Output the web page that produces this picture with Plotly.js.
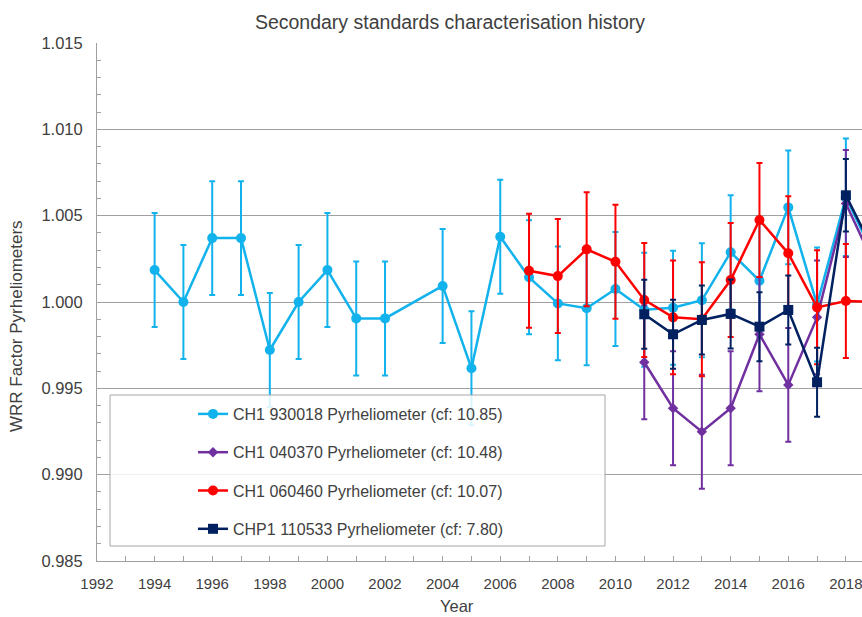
<!DOCTYPE html>
<html>
<head>
<meta charset="utf-8">
<script src="https://cdn.plot.ly/plotly-3.0.1.min.js"></script>
<style>html,body{margin:0;padding:0;background:#fff;}#chart{width:862px;height:617px;}</style>
</head>
<body>
<div id="chart"></div>
<script>
// ---- data ----
const yearsCH1_930018 = [1994,1995,1996,1997,1998,1999,2000,2001,2002,2004,2005,2006,2007,2008,2009,2010,2011,2012,2013,2014,2015,2016,2017,2018,2019];
const valsCH1_930018  = [1.00185,1.0000,1.0037,1.0037,0.99722,1.0000,1.00185,0.99905,0.99905,1.00093,0.99616,1.00378,1.00143,0.99992,0.99964,1.00075,0.99955,0.99967,1.0001,1.00288,1.00123,1.00548,0.99985,1.00607,1.0026];
const errCH1_930018   = [0.0033,0.0033,0.0033,0.0033,0.0033,0.0033,0.0033,0.0033,0.0033,0.0033,0.0033,0.0033,0.0033,0.0033,0.0033,0.0033,0.0033,0.0033,0.0033,0.0033,0.0033,0.0033,0.0033,0.0034,0.0033];

const yearsCH1_040370 = [2011,2012,2013,2014,2015,2016,2017,2018,2019];
const valsCH1_040370  = [0.99651,0.99385,0.99249,0.99385,0.99813,0.9952,0.99911,1.00571,1.0021];
const errCH1_040370   = [0.0033,0.0033,0.0033,0.0033,0.0033,0.0033,0.0033,0.0031,0.0033];

const yearsCH1_060460 = [2007,2008,2009,2010,2011,2012,2013,2014,2015,2016,2017,2018,2019];
const valsCH1_060460  = [1.00181,1.0015,1.00305,1.00233,1.00012,0.99911,0.999,1.00127,1.00475,1.00282,0.99969,1.00006,1.0000];
const errCH1_060460   = [0.0033,0.0033,0.0033,0.0033,0.0033,0.0033,0.0033,0.0033,0.0033,0.0033,0.0033,0.0033,0.0033];

const yearsCHP1_110533 = [2011,2012,2013,2014,2015,2016,2017,2018,2019];
const valsCHP1_110533  = [0.99929,0.99813,0.99896,0.99931,0.99857,0.99954,0.99535,1.00618,1.00284];
const errCHP1_110533   = [0.002,0.002,0.002,0.002,0.002,0.002,0.002,0.0021,0.002];

const seriesNames = [
  "CH1 930018 Pyrheliometer (cf: 10.85)",
  "CH1 040370 Pyrheliometer (cf: 10.48)",
  "CH1 060460 Pyrheliometer (cf: 10.07)",
  "CHP1 110533 Pyrheliometer (cf: 7.80)"
];
const xTickVals = [1992,1994,1996,1998,2000,2002,2004,2006,2008,2010,2012,2014,2016,2018];
const yTickVals = [0.985,0.990,0.995,1.000,1.005,1.010,1.015];

// ---- styling ----
const FONT = "Liberation Sans, Arial, sans-serif";
const TXT = "#404040";

function mk(x, y, err, name, color, symbol, msize, grp) {
  return {
    type: "scatter", mode: "lines+markers", x: x, y: y, name: name,
    legendgroup: grp,
    line: {color: color, width: 2.5},
    marker: {color: color, symbol: symbol, size: msize},
    error_y: {type: "data", array: err, visible: true, color: color, thickness: 2, width: 3},
    cliponaxis: true
  };
}

const traces = [
  mk(yearsCH1_930018, valsCH1_930018, errCH1_930018, seriesNames[0], "#12B2EC", "circle", 10, "a"),
  mk(yearsCH1_040370, valsCH1_040370, errCH1_040370, seriesNames[1], "#7030A0", "diamond", 8, "b"),
  mk(yearsCH1_060460, valsCH1_060460, errCH1_060460, seriesNames[2], "#FF0000", "circle", 10, "c"),
  mk(yearsCHP1_110533, valsCHP1_110533, errCHP1_110533, seriesNames[3], "#002060", "square", 10, "d")
];

const L = 97, R = 0, T = 43, B = 56, W = 862, H = 617;
const pw = W - L - R, ph = H - T - B;
function px2x(px) { return (px - L) / pw; }
function py2y(py) { return (H - B - py) / ph; }

const layout = {
  width: W, height: H,
  margin: {l: L, r: R, t: T, b: B, pad: 0},
  paper_bgcolor: "#fff", plot_bgcolor: "#fff",
  font: {family: FONT, color: TXT, size: 16},
  showlegend: true,
  title: {text: "Secondary standards characterisation history", x: 450 / W, xanchor: "center",
          y: 1 - 22 / H, yanchor: "middle", font: {family: FONT, size: 19.5, color: TXT}},
  xaxis: {
    range: [1992, 2018.56], tickvals: xTickVals, ticktext: xTickVals.map(String),
    ticks: "inside", ticklen: 5, tickcolor: "#a0a0a0", ticklabeloverflow: "allow",
    minor: {dtick: 1, tick0: 1992, ticks: "inside", ticklen: 5, tickcolor: "#a0a0a0", showgrid: false},
    showgrid: false, zeroline: false, showline: true, linecolor: "#a0a0a0", linewidth: 1,
    tickfont: {family: FONT, size: 15, color: TXT}, ticklabelstandoff: 9
  },
  yaxis: {
    range: [0.985, 1.015], tickvals: yTickVals, tickformat: ".3f",
    ticks: "inside", ticklen: 5, tickcolor: "#a0a0a0",
    minor: {dtick: 0.001, tick0: 0.985, ticks: "inside", ticklen: 4, tickcolor: "#a0a0a0", showgrid: false},
    showgrid: true, gridcolor: "#a0a0a0", gridwidth: 1,
    zeroline: false, showline: true, linecolor: "#a0a0a0", linewidth: 1,
    tickfont: {family: FONT, size: 16.5, color: TXT}, ticklabelstandoff: 10
  },
  shapes: [{
    type: "rect", xref: "paper", yref: "paper", layer: "above",
    x0: px2x(110), x1: px2x(605), y0: py2y(546), y1: py2y(395),
    line: {color: "#a6a6a6", width: 1}, fillcolor: "rgba(255,255,255,0.85)"
  }],
  legend: {
    x: px2x(193), xanchor: "left", y: py2y(397), yanchor: "top",
    bgcolor: "rgba(0,0,0,0)", borderwidth: 0,
    font: {family: FONT, size: 16, color: TXT},
    itemwidth: 30, tracegroupgap: 14.5, traceorder: "grouped"
  },
  annotations: [
    {text: "Year", xref: "paper", yref: "paper", x: px2x(457), y: py2y(606),
     xanchor: "center", yanchor: "middle", showarrow: false, font: {family: FONT, size: 16.5, color: TXT}},
    {text: "WRR Factor Pyrheliometers", xref: "paper", yref: "paper", x: px2x(16), y: py2y(326),
     xanchor: "center", yanchor: "middle", textangle: -90, showarrow: false, font: {family: FONT, size: 17, color: TXT}}
  ]
};

Plotly.newPlot("chart", traces, layout, {displayModeBar: false, staticPlot: true});
</script>
</body>
</html>
